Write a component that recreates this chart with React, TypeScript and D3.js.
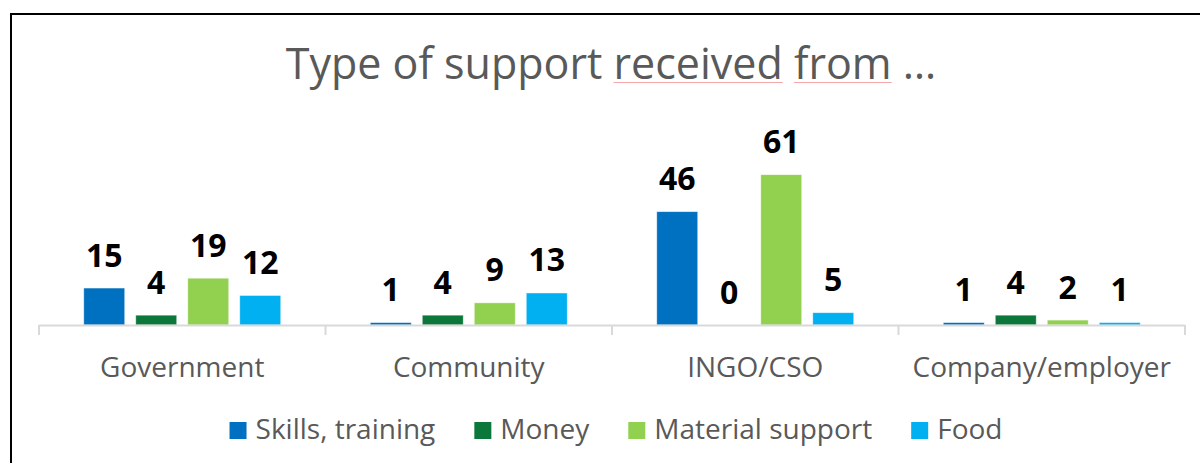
import React, { useEffect, useRef } from "react";
import * as d3 from "d3";

const categories = ["Government", "Community", "INGO/CSO", "Company/employer"];
const seriesNames = ["Skills, training", "Money", "Material support", "Food"];
const skillsValues = [15, 1, 46, 1];
const moneyValues = [4, 4, 0, 4];
const materialValues = [19, 9, 61, 2];
const foodValues = [12, 13, 5, 1];
const seriesColors = ["#0070c0", "#0c773b", "#92d050", "#00b0f0"];
const titleText = "Type of support received from …";

const W = 1200;
const H = 463;
const FONT = "'Open Sans', 'Noto Sans', sans-serif";

export default function App() {
  const ref = useRef<SVGSVGElement | null>(null);

  useEffect(() => {
    const svg = d3.select(ref.current);
    svg.selectAll("*").remove();

    const seriesValues = [skillsValues, moneyValues, materialValues, foodValues];

    // frame
    svg.append("rect")
      .attr("x", 11).attr("y", 14)
      .attr("width", 1210).attr("height", 470)
      .attr("fill", "#fff").attr("stroke", "#000").attr("stroke-width", 2);

    // title
    const title = svg.append("text")
      .attr("x", 611).attr("y", 79)
      .attr("text-anchor", "middle")
      .attr("font-family", FONT).attr("font-size", 43)
      .attr("fill", "#595959")
      .text(titleText);
    const tnode = title.node() as SVGTextElement;
    ["received", "from"].forEach((word) => {
      const idx = titleText.indexOf(word);
      try {
        const start = tnode.getStartPositionOfChar(idx).x;
        const len = tnode.getSubStringLength(idx, word.length);
        svg.append("line")
          .attr("x1", start).attr("x2", start + len)
          .attr("y1", 82.5).attr("y2", 82.5)
          .attr("stroke", "#f2a8a8").attr("stroke-width", 1.2);
      } catch (e) {}
    });

    const x0 = d3.scaleBand<string>().domain(categories).range([39, 1185]).paddingInner(0).paddingOuter(0);
    const groupW = 197;
    const y = d3.scaleLinear().domain([0, 70]).range([325, 152.5]);

    // bars
    categories.forEach((cat, ci) => {
      const cx = (x0(cat) as number) + x0.bandwidth() / 2;
      const x1 = d3.scaleBand<string>().domain(seriesNames)
        .range([cx - groupW / 2, cx + groupW / 2])
        .paddingInner(11 / 52).paddingOuter(0);
      seriesNames.forEach((s, si) => {
        const v = seriesValues[si][ci];
        const bx = x1(s) as number;
        if (v > 0) {
          svg.append("rect")
            .attr("x", bx).attr("y", y(v))
            .attr("width", x1.bandwidth()).attr("height", y(0) - y(v))
            .attr("fill", seriesColors[si])
            .attr("stroke", "#ffffff").attr("stroke-opacity", 0.6).attr("stroke-width", 0.8);
        }
        svg.append("text")
          .attr("x", bx + x1.bandwidth() / 2)
          .attr("y", y(v) - 21.5)
          .attr("text-anchor", "middle")
          .attr("font-family", FONT).attr("font-weight", 700).attr("font-size", 32)
          .attr("fill", "#000")
          .text(String(v));
      });
    });

    // axis
    const axisG = svg.append("g");
    axisG.append("line")
      .attr("x1", 39).attr("x2", 1185).attr("y1", 325.5).attr("y2", 325.5)
      .attr("stroke", "#d9d9d9").attr("stroke-width", 2);
    const tickXs = categories.map((c) => x0(c) as number).concat([x0.range()[1]]);
    tickXs.forEach((tx) => {
      axisG.append("line")
        .attr("x1", tx).attr("x2", tx).attr("y1", 325).attr("y2", 335)
        .attr("stroke", "#d9d9d9").attr("stroke-width", 2);
    });
    categories.forEach((cat) => {
      axisG.append("text")
        .attr("x", (x0(cat) as number) + x0.bandwidth() / 2)
        .attr("y", 377)
        .attr("text-anchor", "middle")
        .attr("font-family", FONT).attr("font-size", 28)
        .attr("fill", "#595959")
        .text(cat);
    });

    // legend
    const legend = svg.append("g");
    const items: { g: any; w: number }[] = [];
    seriesNames.forEach((s, si) => {
      const g = legend.append("g");
      g.append("rect").attr("x", 0).attr("y", 422).attr("width", 17).attr("height", 17)
        .attr("fill", seriesColors[si]);
      const t = g.append("text").attr("x", 26).attr("y", 439)
        .attr("font-family", FONT).attr("font-size", 28).attr("fill", "#595959").text(s);
      const tw = (t.node() as SVGTextElement).getComputedTextLength();
      items.push({ g, w: 26 + tw });
    });
    const spacing = 39;
    const total = d3.sum(items, (d) => d.w) + spacing * (items.length - 1);
    let lx = 616 - total / 2;
    items.forEach((it) => {
      it.g.attr("transform", `translate(${lx},0)`);
      lx += it.w + spacing;
    });
  }, []);

  return (
    <svg
      ref={ref}
      width={W}
      height={H}
      style={{ position: "absolute", left: 0, top: 0, display: "block", background: "#fff" }}
    />
  );
}
